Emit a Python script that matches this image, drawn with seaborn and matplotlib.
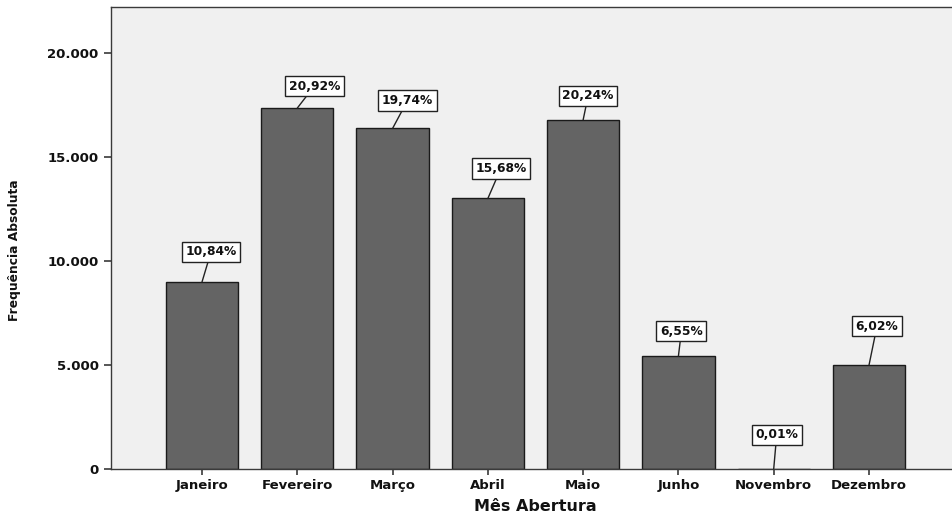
import matplotlib
matplotlib.use("Agg")
import matplotlib.pyplot as plt
from matplotlib.ticker import FuncFormatter
import seaborn as sns
import pandas as pd

# Opened records per month
meses = ["Janeiro", "Fevereiro", "Março", "Abril", "Maio", "Junho", "Novembro", "Dezembro"]
frequencia = [8990, 17350, 16372, 13005, 16786, 5432, 8, 4993]

# Label placement (pixel offsets from the top of each bar to the label box)
label_offsets = [(9, 30), (17, 22), (15, 28), (13, 30), (5, 24), (3, 25), (3, 34), (8, 39)]

total = sum(frequencia)
percentuais = [f"{100 * v / total:.2f}%".replace(".", ",") for v in frequencia]

df = pd.DataFrame({"Mês Abertura": meses, "Frequência Absoluta": frequencia})

sns.set_style("ticks")
plt.rcParams["font.family"] = ["DejaVu Sans"]

fig = plt.figure(figsize=(9.52, 5.18), dpi=100)
ax = fig.add_axes([111 / 952, 49 / 518, 849 / 952, 462 / 518])
ax.set_facecolor("#F0F0F0")

sns.barplot(data=df, x="Mês Abertura", y="Frequência Absoluta", color="#646464",
            saturation=1, width=0.76, edgecolor="#1a1a1a", linewidth=1.0, ax=ax)

ax.set_xlim(-0.955, 7.955)
ax.set_ylim(0, 22210)
ax.set_yticks([0, 5000, 10000, 15000, 20000])
ax.yaxis.set_major_formatter(FuncFormatter(lambda v, p: f"{int(v):,}".replace(",", ".")))

for s in ["left", "bottom", "top", "right"]:
    ax.spines[s].set_visible(True)
    ax.spines[s].set_color("#3a3a3a")
    ax.spines[s].set_linewidth(1.0)

ax.tick_params(axis="y", length=5, width=1.2, color="#3a3a3a", pad=4)
ax.tick_params(axis="x", length=4, width=1.2, color="#3a3a3a", pad=3)
for lab in ax.get_xticklabels() + ax.get_yticklabels():
    lab.set_fontweight("bold")
    lab.set_fontsize(9.5)
    lab.set_color("#111111")

ax.set_xlabel("Mês Abertura", fontsize=11.5, fontweight="bold", labelpad=5, color="#111111")
ax.set_ylabel("Frequência Absoluta", fontsize=8.8, fontweight="bold", color="#111111")
ax.yaxis.set_label_coords(-0.106, 0.474)

for i, (v, txt, off) in enumerate(zip(frequencia, percentuais, label_offsets)):
    ax.annotate(txt, xy=(i, v), xytext=off, textcoords="offset pixels",
                ha="center", va="center", fontsize=8.8, fontweight="bold", color="#111111",
                bbox=dict(boxstyle="square,pad=0.3", fc="white", ec="#222222", lw=1.0),
                arrowprops=dict(arrowstyle="-", color="#222222", lw=1.0,
                                shrinkA=0, shrinkB=0))

fig.savefig("out.png", dpi=100)
